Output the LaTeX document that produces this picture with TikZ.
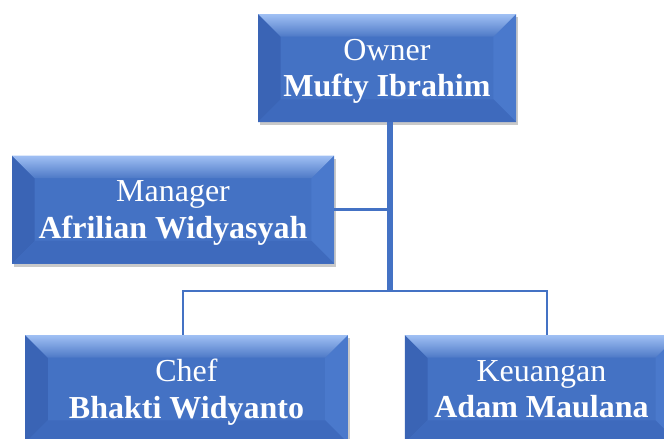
\documentclass[tikz,border=0pt]{standalone}
\usepackage{fontspec}
\setmainfont{Liberation Serif}
\usepackage{xcolor}
\usetikzlibrary{positioning, shadows}
\definecolor{orgblue}{RGB}{68,114,196}
\definecolor{bevtop}{RGB}{160,192,244}
\definecolor{bevleft}{RGB}{58,100,181}
\definecolor{bevright}{RGB}{74,121,204}
\definecolor{bevbot}{RGB}{62,106,189}
\tikzset{
  bevel/.style  = {draw=none, fill=orgblue, text=white, align=center,
                   minimum height=81pt, inner sep=0pt, text depth=0pt,
                   font=\fontsize{24}{27.5}\selectfont,
                   execute at begin node=\rule{0pt}{20pt},
                   drop shadow={shadow xshift=1.5pt, shadow yshift=-2.5pt,
                                opacity=0.3, fill=black!70},
                   path picture={
                     \path (path picture bounding box.north west) coordinate (bnw)
                           (path picture bounding box.north east) coordinate (bne)
                           (path picture bounding box.south west) coordinate (bsw)
                           (path picture bounding box.south east) coordinate (bse);
                     \fill[bevleft]  (bnw) -- (bsw) -- ([shift={(17pt,17pt)}]bsw)
                                     -- ([shift={(17pt,-17pt)}]bnw) -- cycle;
                     \fill[bevright] (bne) -- (bse) -- ([shift={(-17pt,17pt)}]bse)
                                     -- ([shift={(-17pt,-17pt)}]bne) -- cycle;
                     \fill[bevbot]   (bsw) -- (bse) -- ([shift={(-17pt,17pt)}]bse)
                                     -- ([shift={(17pt,17pt)}]bsw) -- cycle;
                     \shade[top color=bevtop, bottom color=orgblue!95!white]
                                     (bnw) -- (bne) -- ([shift={(-17pt,-17pt)}]bne)
                                     -- ([shift={(17pt,-17pt)}]bnw) -- cycle;
                   }},
  link/.style   = {draw=orgblue, line width=1.2pt},
  trunk/.style  = {draw=orgblue, line width=4.5pt}
}

\begin{document}
\begin{tikzpicture}[x=0.75pt, y=-0.75pt]
  \useasboundingbox (0,0) rectangle (664,439);
  \clip (0,0) rectangle (664,439);
  % boxes
  \node[bevel, minimum width=193.5pt] (owner)   at (387,68)    {Owner\\\textbf{Mufty Ibrahim}};
  \node[bevel, minimum width=241.5pt] (manager) at (173,209.5) {Manager\\\textbf{Afrilian Widyasyah}};
  \node[bevel, minimum width=242pt]   (chef)    at (186.5,389) {Chef\\\textbf{Bhakti Widyanto}};
  \node[bevel, minimum width=205pt]   (keu)     at (541.5,389) {Keuangan\\\textbf{Adam Maulana}};
  % lines
  \coordinate (split) at (390,291);
  \draw[trunk] (owner.south -| split) -- (split);
  \draw[link, line width=1.6pt] (manager.east) -- (manager.east -| split);
  \draw[link] ([xshift=-2.5pt]chef.north) |- (split) -| ([xshift=4pt]keu.north);
\end{tikzpicture}
\end{document}
